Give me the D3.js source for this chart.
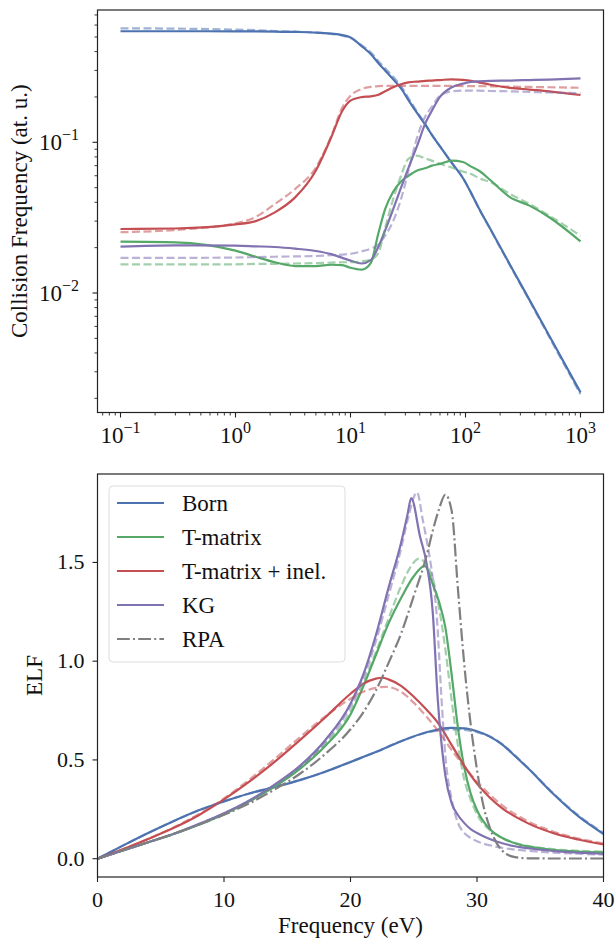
<!DOCTYPE html>
<html>
<head>
<meta charset="utf-8">
<script src="https://cdn.jsdelivr.net/npm/d3@7"></script>
<style>
  body { margin: 0; background: #fff; }
  text { font-family: "Liberation Serif", "DejaVu Serif", serif; fill: #111; }
</style>
</head>
<body>
<div id="chart"></div>
<script>
// ---- top panel: collision frequency vs frequency (log-log) ----
const xTop = [0.1, 0.3, 1, 1.5, 2.2, 3.3, 5, 6.8, 8.5, 10, 12.5, 15, 17.5, 20, 23.5, 27.5, 32, 38, 45, 51, 60, 76, 95, 112, 130, 165, 245, 360, 535, 1000];

const bornTop  = [0.546,0.546,0.545,0.544,0.542,0.54,0.535,0.526,0.515,0.497,0.435,0.385,0.335,0.30,0.262,0.228,0.19,0.156,0.13,0.112,0.094,0.073,0.058,0.046,0.0368,0.0265,0.0153,0.009,0.0052,0.00219];
const bornTopD = [0.571,0.568,0.56,0.555,0.548,0.542,0.535,0.524,0.51,0.492,0.44,0.395,0.345,0.31,0.272,0.236,0.196,0.159,0.131,0.112,0.094,0.073,0.058,0.046,0.0366,0.0263,0.0151,0.0089,0.0051,0.00213];
const tmatTop  = [0.0219,0.0217,0.0191,0.0174,0.0160,0.0151,0.0151,0.0154,0.0153,0.0147,0.0143,0.0158,0.025,0.036,0.047,0.055,0.060,0.065,0.0675,0.070,0.072,0.0756,0.074,0.069,0.065,0.056,0.0431,0.038,0.0318,0.022];
const tmatTopD = [0.0155,0.0155,0.0155,0.0156,0.0156,0.0157,0.0158,0.0159,0.016,0.016,0.0162,0.0166,0.0185,0.027,0.042,0.06,0.078,0.0815,0.078,0.0756,0.072,0.068,0.064,0.0616,0.058,0.0543,0.0454,0.039,0.0326,0.024];
const inelTop  = [0.0266,0.0268,0.0285,0.030,0.0343,0.0431,0.065,0.108,0.162,0.189,0.1995,0.202,0.207,0.218,0.232,0.243,0.25,0.253,0.256,0.257,0.259,0.262,0.26,0.256,0.25,0.241,0.23,0.224,0.218,0.206];
const inelTopD = [0.0253,0.0262,0.029,0.032,0.039,0.049,0.068,0.11,0.171,0.204,0.226,0.233,0.236,0.237,0.237,0.237,0.237,0.237,0.237,0.237,0.237,0.237,0.236,0.236,0.236,0.235,0.234,0.233,0.232,0.230];
const kgTop    = [0.0203,0.0207,0.0206,0.0204,0.0202,0.0197,0.019,0.0181,0.0171,0.0164,0.0157,0.0165,0.0203,0.026,0.036,0.05,0.068,0.095,0.135,0.162,0.2,0.232,0.245,0.252,0.254,0.256,0.257,0.259,0.261,0.266];
const kgTopD   = [0.0171,0.0171,0.0172,0.0173,0.0174,0.0175,0.0176,0.0178,0.0180,0.0182,0.0189,0.0197,0.021,0.024,0.030,0.042,0.065,0.108,0.15,0.172,0.204,0.218,0.22,0.22,0.22,0.219,0.218,0.216,0.214,0.212];

// ---- bottom panel: ELF vs frequency (eV), [x, y] pairs ----
const bornELF  = [[0,0],[2,0.066],[4,0.13],[6,0.19],[8,0.245],[10,0.29],[12,0.33],[14,0.363],[16,0.398],[18,0.44],[20,0.49],[22,0.54],[24,0.595],[26,0.64],[27,0.655],[28,0.662],[29,0.66],[30,0.645],[31,0.618],[32,0.578],[33,0.52],[34,0.46],[36,0.33],[38,0.215],[40,0.125]];
const bornELFD = [[0,0],[2,0.066],[4,0.13],[6,0.19],[8,0.245],[10,0.29],[12,0.33],[14,0.363],[16,0.398],[18,0.44],[20,0.49],[22,0.54],[24,0.595],[26,0.638],[27,0.65],[28,0.655],[29,0.652],[30,0.64],[31,0.62],[32,0.58],[33,0.523],[34,0.462],[36,0.333],[38,0.22],[40,0.13]];
const tmatELF  = [[0,0],[2,0.042],[4,0.083],[6,0.125],[8,0.172],[10,0.225],[12,0.29],[14,0.365],[16,0.455],[18,0.57],[20,0.73],[21,0.87],[22,1.03],[23,1.19],[24,1.32],[25,1.43],[25.87,1.483],[26.5,1.39],[27,1.3],[27.5,1.17],[28,0.93],[28.5,0.66],[29,0.46],[29.5,0.33],[30,0.245],[31,0.15],[32,0.105],[33,0.078],[34,0.062],[36,0.045],[38,0.036],[40,0.032]];
const tmatELFD = [[0,0],[2,0.042],[4,0.083],[6,0.125],[8,0.172],[10,0.225],[12,0.29],[14,0.367],[16,0.46],[18,0.58],[20,0.745],[21,0.885],[22,1.045],[23,1.215],[24,1.38],[25,1.5],[25.4,1.519],[26,1.49],[26.5,1.42],[27,1.27],[27.5,1.06],[28,0.8],[28.5,0.57],[29,0.4],[29.5,0.3],[30,0.225],[31,0.145],[32,0.105],[33,0.08],[34,0.065],[36,0.048],[38,0.04],[40,0.036]];
const inelELF  = [[0,0],[2,0.048],[4,0.1],[6,0.155],[8,0.22],[10,0.3],[12,0.39],[14,0.49],[16,0.6],[18,0.715],[20,0.835],[21,0.885],[22,0.912],[22.5,0.916],[23,0.908],[24,0.875],[25,0.82],[26,0.755],[27,0.68],[28,0.575],[29,0.47],[30,0.38],[31,0.31],[32,0.255],[34,0.18],[36,0.13],[38,0.097],[40,0.072]];
const inelELFD = [[0,0],[2,0.048],[4,0.1],[6,0.158],[8,0.225],[10,0.305],[12,0.4],[14,0.505],[16,0.615],[18,0.72],[20,0.81],[21,0.845],[22,0.865],[22.8,0.87],[24,0.845],[25,0.79],[26,0.72],[27,0.64],[28,0.55],[29,0.465],[30,0.39],[31,0.325],[32,0.27],[34,0.19],[36,0.138],[38,0.102],[40,0.078]];
const kgELF    = [[0,0],[2,0.042],[4,0.083],[6,0.125],[8,0.175],[10,0.23],[12,0.295],[14,0.375],[16,0.47],[18,0.6],[20,0.785],[21,0.93],[22,1.13],[23,1.37],[24,1.6],[24.5,1.74],[24.8,1.826],[25.5,1.63],[26,1.5],[26.5,1.25],[26.9,0.805],[27.5,0.42],[28,0.28],[28.5,0.22],[29,0.18],[29.5,0.15],[30,0.13],[31,0.1],[32,0.078],[33,0.063],[34,0.053],[36,0.04],[38,0.031],[40,0.025]];
const kgELFD   = [[0,0],[2,0.042],[4,0.083],[6,0.125],[8,0.175],[10,0.23],[12,0.293],[14,0.372],[16,0.465],[18,0.59],[20,0.77],[21,0.91],[22,1.1],[23,1.33],[24,1.57],[24.5,1.71],[25.26,1.855],[25.7,1.72],[26,1.62],[26.5,1.42],[26.8,1.245],[27.2,0.805],[27.5,0.52],[28,0.3],[28.5,0.18],[29,0.13],[29.5,0.105],[30,0.088],[31,0.068],[32,0.055],[33,0.046],[34,0.04],[36,0.031],[38,0.025],[40,0.021]];
const rpaELF   = [[0,0],[2,0.042],[4,0.083],[6,0.125],[8,0.172],[10,0.222],[12,0.28],[14,0.35],[16,0.43],[18,0.53],[20,0.655],[21,0.74],[22,0.85],[23,0.99],[24,1.14],[25,1.33],[26,1.53],[26.5,1.66],[27,1.77],[27.5,1.843],[28,1.76],[28.5,1.36],[29,0.98],[29.5,0.68],[30,0.45],[30.5,0.27],[31,0.16],[32,0.04],[33,0.008],[34,0.002],[36,0.001],[38,0.001],[40,0.001]];

const legendLabels = ["Born", "T-matrix", "T-matrix + inel.", "KG", "RPA"];
const xTickTop = [0.1, 1, 10, 100, 1000];
const yTickTop = [0.01, 0.1];
const xTickBot = [0, 10, 20, 30, 40];
const yTickBot = [0, 0.5, 1.0, 1.5];

const col = { born: "#4C72B0", tmat: "#55A868", inel: "#C44E52", kg: "#8172B2", rpa: "#7f7f7f" };

const W = 616, H = 941;
const svg = d3.select("#chart").append("svg").attr("width", W).attr("height", H);

const boxT = { left: 97.5, right: 603.5, top: 10, bottom: 412.5 };
const boxB = { left: 97.5, right: 603.5, top: 474, bottom: 877 };

// matplotlib-like 5% margins (in log space for log axes)
function logPad(lo, hi) {
  const a = Math.log10(lo), b = Math.log10(hi), m = (b - a) * 0.05;
  return [Math.pow(10, a - m), Math.pow(10, b + m)];
}
const allTop = [].concat(bornTop, bornTopD, tmatTop, tmatTopD, inelTop, inelTopD, kgTop, kgTopD);
const xT = d3.scaleLog().domain(logPad(d3.min(xTop), d3.max(xTop))).range([boxT.left, boxT.right]);
const yT = d3.scaleLog().domain(logPad(d3.min(allTop), d3.max(allTop))).range([boxT.bottom, boxT.top]);

const allBot = [bornELF, bornELFD, tmatELF, tmatELFD, inelELF, inelELFD, kgELF, kgELFD, rpaELF];
const yMaxB = d3.max(allBot, s => d3.max(s, d => d[1]));
const xB = d3.scaleLinear().domain([0, 40]).range([boxB.left, boxB.right]);
const yB = d3.scaleLinear().domain([-0.05 * yMaxB, yMaxB * 1.05]).range([boxB.bottom, boxB.top]);

// clip paths
const defs = svg.append("defs");
defs.append("clipPath").attr("id", "clipT").append("rect")
  .attr("x", boxT.left).attr("y", boxT.top).attr("width", boxT.right - boxT.left).attr("height", boxT.bottom - boxT.top);
defs.append("clipPath").attr("id", "clipB").append("rect")
  .attr("x", boxB.left).attr("y", boxB.top).attr("width", boxB.right - boxB.left).attr("height", boxB.bottom - boxB.top);

const tickCol = "#222";

// ---------- top panel ----------
const gT = svg.append("g");
const lineT = d3.line().x(d => xT(d[0])).y(d => yT(d[1])).curve(d3.curveMonotoneX);
const topSeries = [
  { v: bornTop, c: col.born }, { v: tmatTop, c: col.tmat }, { v: inelTop, c: col.inel }, { v: kgTop, c: col.kg },
  { v: bornTopD, c: col.born, dash: true }, { v: tmatTopD, c: col.tmat, dash: true },
  { v: inelTopD, c: col.inel, dash: true }, { v: kgTopD, c: col.kg, dash: true }
];
const plotT = gT.append("g").attr("clip-path", "url(#clipT)");
topSeries.forEach(s => {
  plotT.append("path")
    .datum(xTop.map((x, i) => [x, s.v[i]]))
    .attr("d", lineT)
    .attr("fill", "none")
    .attr("stroke", s.c)
    .attr("stroke-width", 2.2)
    .attr("stroke-opacity", s.dash ? 0.55 : 1)
    .attr("stroke-dasharray", s.dash ? "8,3.5" : null);
});

// minor ticks for log axes
function minorTicks(scale) {
  const [lo, hi] = scale.domain();
  const out = [];
  for (let e = Math.floor(Math.log10(lo)); e <= Math.ceil(Math.log10(hi)); e++) {
    for (let k = 2; k <= 9; k++) {
      const v = k * Math.pow(10, e);
      if (v >= lo && v <= hi) out.push(v);
    }
  }
  return out;
}

minorTicks(xT).forEach(v => {
  gT.append("line").attr("x1", xT(v)).attr("x2", xT(v)).attr("y1", boxT.bottom).attr("y2", boxT.bottom + 3)
    .attr("stroke", tickCol).attr("stroke-width", 0.9);
});
minorTicks(yT).forEach(v => {
  gT.append("line").attr("y1", yT(v)).attr("y2", yT(v)).attr("x1", boxT.left).attr("x2", boxT.left - 3)
    .attr("stroke", tickCol).attr("stroke-width", 0.9);
});

function powLabel(g, x, y, exp, anchor) {
  const t = g.append("text").attr("x", x).attr("y", y).attr("text-anchor", anchor).style("font-size", "23px");
  t.append("tspan").text("10");
  t.append("tspan").attr("dy", "-10").style("font-size", "16px").text(exp < 0 ? "\u2212" + (-exp) : String(exp));
}

xTickTop.forEach(v => {
  gT.append("line").attr("x1", xT(v)).attr("x2", xT(v)).attr("y1", boxT.bottom).attr("y2", boxT.bottom + 5)
    .attr("stroke", tickCol).attr("stroke-width", 1.1);
  powLabel(gT, xT(v), 443, Math.round(Math.log10(v)), "middle");
});
yTickTop.forEach(v => {
  gT.append("line").attr("y1", yT(v)).attr("y2", yT(v)).attr("x1", boxT.left).attr("x2", boxT.left - 5)
    .attr("stroke", tickCol).attr("stroke-width", 1.1);
  powLabel(gT, 79, yT(v) + 8, Math.round(Math.log10(v)), "end");
});

gT.append("rect").attr("x", boxT.left).attr("y", boxT.top)
  .attr("width", boxT.right - boxT.left).attr("height", boxT.bottom - boxT.top)
  .attr("fill", "none").attr("stroke", tickCol).attr("stroke-width", 1.2);

gT.append("text")
  .attr("transform", `translate(27,${(boxT.top + boxT.bottom) / 2}) rotate(-90)`)
  .attr("text-anchor", "middle")
  .style("font-size", "23px")
  .text("Collision Frequency (at. u.)");

// ---------- bottom panel ----------
const gB = svg.append("g");
const lineB = d3.line().x(d => xB(d[0])).y(d => yB(d[1])).curve(d3.curveMonotoneX);
const botSeries = [
  { v: bornELF, c: col.born }, { v: tmatELF, c: col.tmat }, { v: inelELF, c: col.inel }, { v: kgELF, c: col.kg },
  { v: bornELFD, c: col.born, dash: "8,3.5", op: 0.55 }, { v: tmatELFD, c: col.tmat, dash: "8,3.5", op: 0.55 },
  { v: inelELFD, c: col.inel, dash: "8,3.5", op: 0.55 }, { v: kgELFD, c: col.kg, dash: "8,3.5", op: 0.55 },
  { v: rpaELF, c: col.rpa, dash: "12.8,3.2,2,3.2" }
];
const plotB = gB.append("g").attr("clip-path", "url(#clipB)");
botSeries.forEach(s => {
  plotB.append("path")
    .datum(s.v)
    .attr("d", lineB)
    .attr("fill", "none")
    .attr("stroke", s.c)
    .attr("stroke-width", 2.2)
    .attr("stroke-opacity", s.op || 1)
    .attr("stroke-dasharray", s.dash || null);
});

xTickBot.forEach(v => {
  gB.append("line").attr("x1", xB(v)).attr("x2", xB(v)).attr("y1", boxB.bottom).attr("y2", boxB.bottom + 5)
    .attr("stroke", tickCol).attr("stroke-width", 1.1);
  gB.append("text").attr("x", xB(v)).attr("y", 907).attr("text-anchor", "middle")
    .style("font-size", "22px").text(d3.format(".0f")(v));
});
yTickBot.forEach(v => {
  gB.append("line").attr("y1", yB(v)).attr("y2", yB(v)).attr("x1", boxB.left).attr("x2", boxB.left - 5)
    .attr("stroke", tickCol).attr("stroke-width", 1.1);
  gB.append("text").attr("x", boxB.left - 13).attr("y", yB(v) + 7).attr("text-anchor", "end")
    .style("font-size", "22px").text(d3.format(".1f")(v));
});

gB.append("rect").attr("x", boxB.left).attr("y", boxB.top)
  .attr("width", boxB.right - boxB.left).attr("height", boxB.bottom - boxB.top)
  .attr("fill", "none").attr("stroke", tickCol).attr("stroke-width", 1.2);

gB.append("text")
  .attr("transform", `translate(42,${(boxB.top + boxB.bottom) / 2}) rotate(-90)`)
  .attr("text-anchor", "middle")
  .style("font-size", "23px")
  .text("ELF");

gB.append("text")
  .attr("x", (boxB.left + boxB.right) / 2).attr("y", 933)
  .attr("text-anchor", "middle")
  .style("font-size", "23px")
  .text("Frequency (eV)");

// legend
const leg = gB.append("g");
leg.append("rect").attr("x", 109).attr("y", 486).attr("width", 236).attr("height", 176)
  .attr("rx", 4).attr("fill", "#fff").attr("fill-opacity", 0.8)
  .attr("stroke", "#ddd").attr("stroke-width", 1);
const legCols = [col.born, col.tmat, col.inel, col.kg, col.rpa];
legendLabels.forEach((name, i) => {
  const cy = 503 + i * 34;
  leg.append("line").attr("x1", 117).attr("x2", 164).attr("y1", cy).attr("y2", cy)
    .attr("stroke", legCols[i]).attr("stroke-width", 2.2)
    .attr("stroke-dasharray", i === 4 ? "12.8,3.2,2,3.2" : null);
  leg.append("text").attr("x", 182).attr("y", cy + 8).style("font-size", "23px").text(name);
});
</script>
</body>
</html>
